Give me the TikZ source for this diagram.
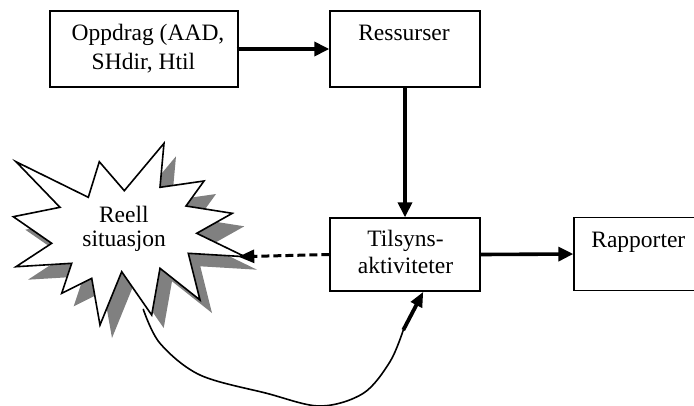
\documentclass[tikz,border=0pt]{standalone}
\usepackage{fontspec}
\setmainfont{Liberation Serif}
\usetikzlibrary{arrows.meta,calc}

\tikzset{
  box/.style={draw=black, line width=1.4bp, fill=white, rectangle, inner sep=0pt},
  label/.style={inner sep=0pt, anchor=base, font=\fontsize{23.5bp}{29bp}\selectfont},
  flow/.style={line width=3.6bp, -{Triangle[length=15bp,width=14bp]}},
  hint/.style={line width=3bp, dash pattern=on 8bp off 4bp,
               -{Triangle[length=16bp,width=13bp]}},
  burst/.style={draw=black, line width=1.6bp, fill=white, line join=miter},
  burstshadow/.style={fill=black!50, draw=none},
}

\begin{document}
\begin{tikzpicture}[x=1bp, y=-1bp]
\useasboundingbox (0,0) rectangle (694,405);
\clip (0,0) rectangle (694,405);

% the starburst outline, shadow first
\def\burstpath{(16,161.7) -- (88.3,197.3) -- (99.3,161.7) -- (124.3,190.7)
  -- (164,143.3) -- (160,187.3) -- (204,181) -- (186,206) -- (232.3,213.3)
  -- (196.7,233.3) -- (245,256.7) -- (188.3,253.3) -- (200,300)
  -- (160,268.3) -- (151.7,315) -- (121.7,271.7) -- (100,325)
  -- (91.7,278.3) -- (61.7,293.3) -- (71.7,263.3) -- (16,266.7)
  -- (51.7,243.3) -- (13.3,216.7) -- (60,207.3) -- cycle}
\begin{scope}[shift={(12,13)}]
  \path[burstshadow] \burstpath;
\end{scope}
\path[burst] \burstpath;
\coordinate (bursttip) at (238.3,256.7);
\coordinate (burstfoot) at (143.3,309.3);
\node[label] (reell1) at (123.8,222.3) {Reell};
\node[label] (reell2) at (124.2,246.7) {situasjon};

% boxes
\node[box, minimum width=188bp, minimum height=76bp] (opp) at (144,49) {};
\node[box, minimum width=150bp, minimum height=76bp] (res) at (405,49) {};
\node[box, minimum width=150bp, minimum height=73bp] (tils) at (405,254.5) {};
\node[box, minimum width=146bp, minimum height=73.4bp] (rap) at (647,254) {};

\node[label] (opp1) at (148,40.5) {Oppdrag (AAD,};
\node[label] (opp2) at (143.5,69.5) {SHdir, Htil};
\node[label] (res1) at (404,40.7) {Ressurser};
\node[label] (tils1) at (405.5,246) {Tilsyns-};
\node[label] (tils2) at (405.5,273.3) {aktiviteter};
\node[label] (rap1) at (638.3,247.7) {Rapporter};

% connectors
\draw[flow] ([xshift=-2bp]opp.east) -- (res.west);
\draw[flow] (res.south) -- (tils.north);
\draw[flow] (tils.east) -- (rap.west);
\draw[hint] (tils.west) -- (bursttip);

% curved feedback line from the situation back to the activities
\coordinate (bend) at (403.3,330);
\draw[line width=1.6bp, line cap=round]
  plot[smooth, tension=0.55] coordinates {(burstfoot) (160,343.3) (200,375)
    (266.7,393.3) (320,406) (363.3,393.3) (390,361.7) (bend)};
\draw[line width=3.8bp, -{Triangle[length=15bp,width=12bp]}]
  (bend) -- ($(tils.south)+(18.3,0)$);
\end{tikzpicture}
\end{document}
